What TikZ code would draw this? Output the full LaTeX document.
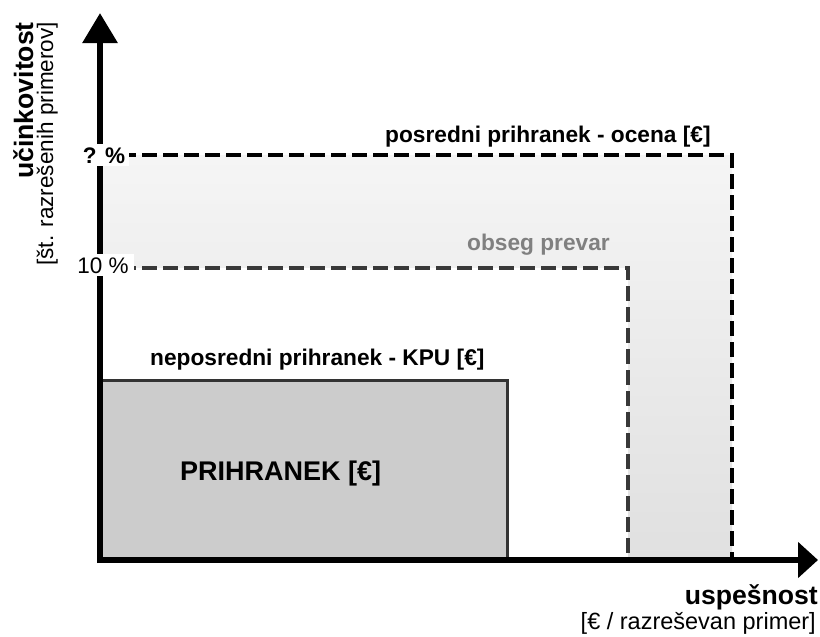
\documentclass[tikz,border=0pt]{standalone}
\usepackage{fontspec}
\setmainfont{Liberation Sans}
\usetikzlibrary{arrows.meta}
\definecolor{boxgray}{HTML}{CCCCCC}
\definecolor{boxedge}{HTML}{333333}
\definecolor{shadetop}{HTML}{F5F5F5}
\definecolor{shadebot}{HTML}{E0E0E0}
\definecolor{midgray}{HTML}{808080}
\definecolor{innerdash}{HTML}{383838}
\tikzset{
  axisline/.style={line width=6pt, line join=round, -{Triangle[length=30pt,width=34pt]}},
  outerdash/.style={line width=4pt, dash pattern=on 15pt off 6pt, black},
  innerdashline/.style={line width=3.5pt, dash pattern=on 15pt off 6pt, innerdash},
  boldlbl/.style={inner sep=0pt, font=\bfseries\fontsize{22.7}{27}\selectfont},
  plainlbl/.style={inner sep=0pt, font=\fontsize{22.5}{27}\selectfont},
  axtitle/.style={inner sep=0pt, font=\bfseries\fontsize{26.6}{30}\selectfont},
  pctlbl/.style={fill=white, inner xsep=4pt, inner ysep=3pt},
}
\begin{document}
\begin{tikzpicture}[x=1pt,y=-1pt]
\useasboundingbox (0,0) rectangle (820,637);
% coordinates
\coordinate (O) at (100,560);
\coordinate (Ybot) at (100,563);
\coordinate (Ytip) at (100,13);
\coordinate (Xleft) at (97,560);
\coordinate (Xtip) at (818,560);
\coordinate (Qa) at (100,155);
\coordinate (Qc) at (732,560);
\coordinate (Ta) at (100,268);
\coordinate (Tc) at (628,560);
% shaded estimate area
\shade[top color=shadetop, bottom color=shadebot] (Qa) rectangle (Qc);
\fill[white] (Ta) rectangle (Tc);
% savings box
\draw[fill=boxgray, draw=boxedge, line width=3pt] (100,380) rectangle (507,560);
% dashed outlines
\draw[outerdash] (Qa) -| (Qc);
\draw[innerdashline] (Ta) -| (Tc);
% axes
\draw[axisline] (Ybot) -- (Ytip);
\draw[line width=6pt, -{Triangle[length=20pt,width=35pt]}] (Xleft) -- (Xtip);
% percent labels
\node[pctlbl, anchor=base, font=\bfseries\fontsize{22.5}{27}\selectfont] (qpct) at (104,163) {? \%};
\node[pctlbl, anchor=base, inner xsep=5pt, font=\fontsize{22.5}{27}\selectfont] (tpct) at (103,273) {10 \%};
% region labels
\node[boldlbl, anchor=base west] (posr) at (385,142) {posredni prihranek - ocena [€]};
\node[boldlbl, anchor=base west, text=midgray] (obseg) at (467,250) {obseg prevar};
\node[boldlbl, anchor=base west] (nepo) at (150,365) {neposredni prihranek - KPU [€]};
\node[inner sep=0pt, anchor=base west, font=\bfseries\fontsize{27}{30}\selectfont] (prih) at (180,480) {PRIHRANEK [€]};
% axis titles
\node[axtitle, rotate=90, anchor=base east] (ytitle) at (33,22) {učinkovitost};
\node[plainlbl, rotate=90, anchor=base east] (ysub) at (53,22) {[št. razrešenih primerov]};
\node[axtitle, anchor=base east] (xtitle) at (818,604) {uspešnost};
\node[inner sep=0pt, anchor=base east, font=\fontsize{23.5}{27}\selectfont] (xsub) at (816,629) {[€ / razreševan primer]};
\end{tikzpicture}
\end{document}
